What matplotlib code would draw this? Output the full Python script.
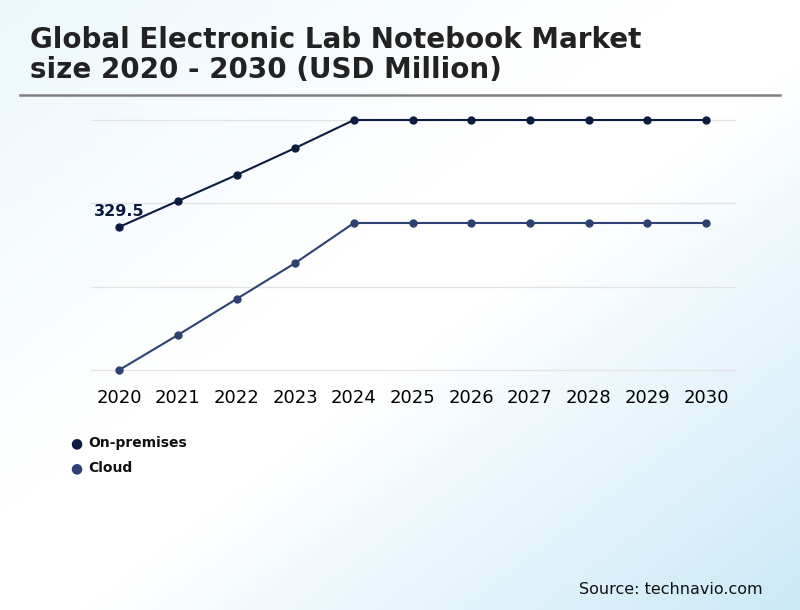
import numpy as np
import matplotlib
matplotlib.use('Agg')
import matplotlib.pyplot as plt
from matplotlib.colors import LinearSegmentedColormap

# data (USD million)
years = [2020, 2021, 2022, 2023, 2024, 2025, 2026, 2027, 2028, 2029, 2030]
on_premises = [329.5, 389.4, 449.3, 511.5, 576.0, 576.0, 576.0, 576.0, 576.0, 576.0, 576.0]
cloud = [0.0, 80.6, 163.6, 246.5, 338.7, 338.7, 338.7, 338.7, 338.7, 338.7, 338.7]
series_names = ["On-premises", "Cloud"]
series_colors = ["#0c1c40", "#2d4272"]

fig = plt.figure(figsize=(8, 6.1), dpi=100)

# background gradient
bg = fig.add_axes([0, 0, 1, 1], zorder=-10)
xx, yy = np.meshgrid(np.linspace(0, 1, 200), np.linspace(0, 1, 200))
t = (xx + yy) / 2
cmap = LinearSegmentedColormap.from_list(
    "bg", [(0, "#edf8fd"), (0.42, "#ffffff"), (0.55, "#ffffff"), (1, "#cbe9f7")])
bg.imshow(t, cmap=cmap, aspect='auto', origin='upper', extent=[0, 1, 0, 1])
bg.axis('off')

# title and rule
fig.text(30 / 800, 1 - 55 / 610, "Global Electronic Lab Notebook Market\nsize 2020 - 2030 (USD Million)",
         fontsize=20, fontweight='bold', color='#222222', va='center', ha='left', linespacing=1.05)
fig.add_artist(plt.Line2D([20 / 800, 780 / 800], [1 - 95 / 610] * 2, color='#7f7f7f', lw=1.8))

ax = fig.add_axes([91 / 800, 1 - 372 / 610, 645 / 800, 254 / 610])
ax.patch.set_alpha(0)
top = max(on_premises)
pad = top * 2 / 250
ax.set_ylim(-pad, top + pad)
ax.set_xlim(years[0] - 0.48, years[-1] + 0.51)
ax.set_yticks(np.linspace(0, top, 4))
ax.grid(axis='y', color='#e3e3e3', lw=0.9)
ax.set_axisbelow(True)
for s in ax.spines.values():
    s.set_visible(False)
ax.tick_params(axis='y', left=False, labelleft=False)
ax.tick_params(axis='x', length=0, pad=12.5, labelsize=13)
ax.set_xticks(years)

for vals, c in zip([on_premises, cloud], series_colors):
    ax.plot(years, vals, color=c, lw=1.5, marker='o', ms=5, clip_on=False)

ax.annotate(f"{on_premises[0]}", (years[0], on_premises[0]), xytext=(-18, 8),
            textcoords='offset points', fontsize=11.5, fontweight='bold', color=series_colors[0])

# legend
for i, (name, c) in enumerate(zip(series_names, series_colors)):
    y = 1 - (443 + 25 * i) / 610
    fig.text(76 / 800, y, "\u25cf", color=c, fontsize=10, ha='center', va='center')
    fig.text(88 / 800, y, name, fontsize=10, fontweight='bold', color='#111111', va='center')

fig.text(763 / 800, 1 - 589 / 610, "Source: technavio.com", fontsize=11.5, ha='right', va='center', color='#111111')

fig.savefig("out.png", dpi=100)
